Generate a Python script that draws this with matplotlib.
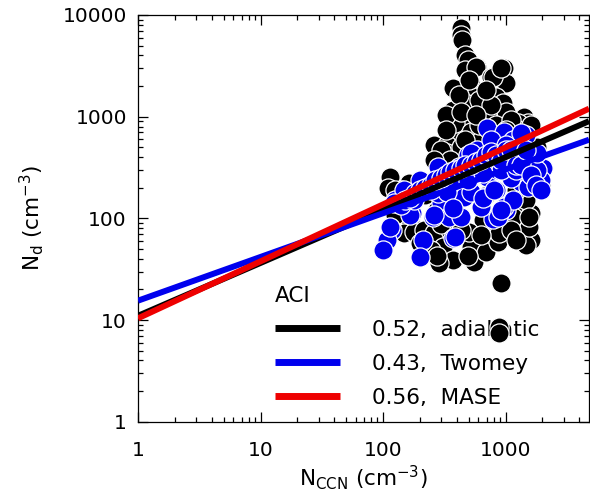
import matplotlib
matplotlib.use('Agg')
import matplotlib.pyplot as plt
from matplotlib.lines import Line2D
from matplotlib.ticker import FuncFormatter
import numpy as np

# adiabatic droplet number vs CCN (black points)
adiab_ccn = [430, 435, 440, 471, 490, 471, 590, 570, 970, 1000, 755, 790, 912, 390, 375,
             550, 520, 550, 830, 950, 1000, 455, 660, 471, 650, 375, 405, 520, 710, 375,
             455, 490, 710, 1410, 1530, 1260, 1260, 260, 355, 430, 390, 520, 335, 390, 335,
             430, 115, 162, 139, 110, 126, 167, 147, 178, 215, 260, 355, 275, 660, 860,
             1410, 1530, 1330, 755, 520, 310, 1600, 500, 375, 550, 690, 860, 910, 1460, 1560,
             1600, 1460, 910, 285, 245, 275, 490, 880, 885, 885, 1800, 1940, 1160, 1560, 202,
             690, 455, 295, 1000, 1210, 126, 625, 912, 1100, 324, 222, 324, 610,
             415, 610, 755, 430, 570, 830, 1100, 1000, 471, 324, 295, 355, 260, 1460, 1600,
             690, 500, 295, 430, 625, 1100, 1210]
adiab_nd = [7400, 6300, 5660, 4030, 3600, 2870, 3070, 3070, 3000, 2140, 2450, 2450, 3000, 1820, 1900,
            1820, 2045, 1560, 1560, 1360, 1110, 1300, 1240, 1360, 1300, 1160, 925, 925, 925, 740,
            740, 970, 1085, 990, 865, 865, 740, 526, 631, 589, 865, 706, 526, 400, 438,
            500, 255, 222, 190, 199, 190, 96, 72, 73, 76, 72, 76, 120, 96, 82,
            82, 113, 141, 61, 52, 52, 61, 73, 39, 37, 47, 58, 23, 55, 82,
            113, 151, 82, 36, 49, 43, 43, 72, 8.5, 7.5, 500, 212, 103, 103, 57,
            169, 238, 334, 298, 190, 108, 589, 470, 589, 238, 170, 1040, 827,
            1630, 1455, 1300, 1110, 1040, 827, 925, 740, 589, 740, 470, 374, 374, 374, 827,
            1820, 2290, 88, 76, 68, 76, 61]

# Twomey droplet number vs CCN (blue points)
twomey_ccn = [710, 970, 1460, 1160, 590, 860, 490, 2020, 1530, 1100, 710, 490, 375, 295, 255,
              345, 430, 660, 830, 1000, 790, 1330, 1940, 174, 119, 108, 210, 375, 126, 280,
              455, 625, 100, 202, 390, 1330, 520, 1800, 1530, 1100, 860, 660, 520, 335, 375,
              260, 167, 115, 970, 860, 1160, 280, 202, 147, 415, 355, 245, 122, 178, 912,
              650, 912, 490, 800, 660, 1160, 1800, 755, 1000, 1210,
              139, 152, 167, 183, 202, 222, 245, 268, 295, 324, 355, 390, 430, 471, 520,
              570, 625, 690, 755, 830, 912, 1000, 1100, 1210, 1330, 1460, 1600, 1760, 1940]
twomey_nd = [772, 706, 659, 589, 470, 500, 419, 312, 319, 392, 255, 203, 279, 142, 103,
             103, 103, 162, 190, 120, 99, 227, 238, 113, 76, 61, 61, 64, 151, 177,
             162, 129, 49, 42, 65, 690, 440, 298, 203, 249, 298, 298, 182, 182, 126,
             108, 108, 82, 130, 103, 151, 320, 238, 190, 320, 238, 190, 142, 151, 298,
             160, 120, 238, 190, 280, 400, 438, 589, 526, 298,
             135, 151, 158, 177, 190, 198, 212, 238, 249, 267, 285, 298, 312, 334, 334,
             358, 374, 420, 449, 420, 374, 470, 470, 334, 334, 470, 267, 212, 190]

# power-law fits Nd = a * Nccn^b
fit_slopes = [0.52, 0.43, 0.56]
fit_coefs = [11.0, 15.5, 10.4]
fit_names = ['adiabatic', 'Twomey', 'MASE']
fit_colors = ['black', '#0000ee', '#ee0000']

plt.rcParams['font.family'] = ['DejaVu Sans']
plt.rcParams['mathtext.default'] = 'regular'

fig = plt.figure(figsize=(5.9, 4.91), dpi=100)
ax = fig.add_axes([0.2339, 0.1411, 0.7644, 0.8284])

xmin, xmax = 1, 4800
ax.set_xscale('log')
ax.set_yscale('log')
ax.set_xlim(xmin, xmax)
ax.set_ylim(1, 10000)

ax.scatter(adiab_ccn, adiab_nd, s=190, c='black', edgecolors='white', linewidths=0.9, zorder=2)
ax.scatter(twomey_ccn, twomey_nd, s=190, c='#0000ee', edgecolors='white', linewidths=0.9, zorder=3)

xx = np.logspace(0, np.log10(xmax), 50)
handles = []
for b, a, name, col in zip(fit_slopes, fit_coefs, fit_names, fit_colors):
    ax.plot(xx, a * xx ** b, color=col, lw=4.3, solid_capstyle='butt', zorder=4)
    handles.append(Line2D([], [], color=col, lw=5, solid_capstyle='butt',
                          label=f'{b:.2f},  {name}'))

leg = ax.legend(handles=handles, title='ACI', loc='lower left',
                bbox_to_anchor=(0.285, 0.013), frameon=False, fontsize=15.5,
                title_fontsize=15.5, alignment='left', handlelength=3.0,
                handletextpad=1.5, labelspacing=0.65, borderaxespad=0)
leg.set_zorder(1)

fmt = FuncFormatter(lambda v, p: f'{v:g}' if v >= 1 else '')
ax.xaxis.set_major_formatter(fmt)
ax.yaxis.set_major_formatter(fmt)
ax.tick_params(which='both', direction='in', top=True, right=True, labelsize=14.5)
ax.tick_params(which='major', length=7, width=0.9)
ax.tick_params(which='minor', length=3.5, width=0.9)
ax.tick_params(axis='x', which='major', pad=14)
ax.tick_params(axis='y', which='major', pad=8)
for sp in ax.spines.values():
    sp.set_linewidth(0.9)

ax.set_xlabel('N$_{CCN}$ (cm$^{-3}$)', fontsize=15.5, labelpad=2)
ax.set_ylabel('N$_d$ (cm$^{-3}$)', fontsize=15.5, labelpad=12)

fig.savefig('out.png', dpi=100)
